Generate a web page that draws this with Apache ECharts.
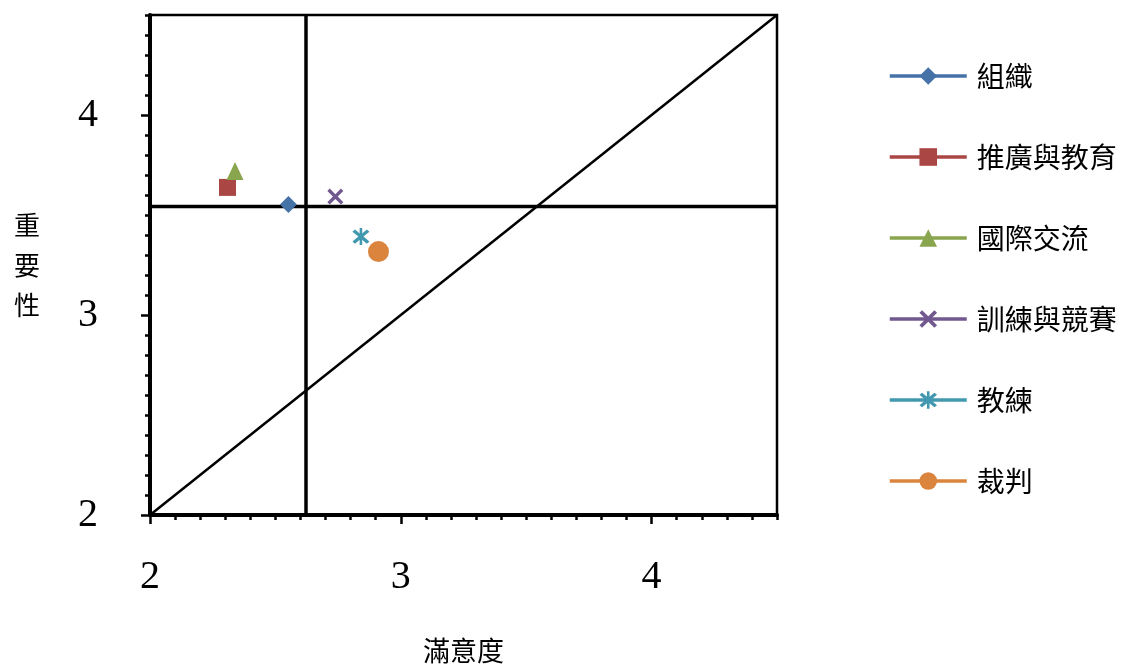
<!DOCTYPE html>
<html>
<head>
<meta charset="utf-8">
<script src="https://cdn.jsdelivr.net/npm/echarts@6/dist/echarts.min.js"></script>
<style>html,body{margin:0;padding:0;background:#fff;}#c{width:1145px;height:668px;}</style>
</head>
<body>
<div id="c"></div>
<script>
const seriesNames = ['組織', '推廣與教育', '國際交流', '訓練與競賽', '教練', '裁判'];
const satisfaction = [2.552, 2.309, 2.339, 2.739, 2.841, 2.911];
const importance = [3.553, 3.638, 3.72, 3.592, 3.392, 3.317];
const meanSatisfaction = 2.622;
const meanImportance = 3.542;
const axisMin = 2, axisMax = 4.5;
const axisTickLabels = [2, 3, 4];
const xName = '滿意度';
const yName = '重要性';

const colors = ['#4572A7', '#AA4643', '#89A54E', '#71588F', '#4198AF', '#DB843D'];
const xPath = 'path://M3,0 L10,7 L17,0 L20,3 L13,10 L20,17 L17,20 L10,13 L3,20 L0,17 L7,10 L0,3 Z';
const starPath = 'path://M3,0 L10,7 L17,0 L20,3 L13,10 L20,17 L17,20 L10,13 L3,20 L0,17 L7,10 L0,3 Z M8.5,-2 L11.5,-2 L11.5,22 L8.5,22 Z';
const symbols = ['diamond', 'rect', 'triangle', xPath, starPath, 'circle'];
const sizes = [[17, 17], [17, 17], [17, 18], [16, 16], [17, 17], [21, 21]];

const chart = echarts.init(document.getElementById('c'));
const labelFont = { fontFamily: 'Liberation Serif', fontSize: 40, color: '#000' };

const pointSeries = seriesNames.map((n, i) => ({
  name: n,
  type: 'line',
  xAxisIndex: 0, yAxisIndex: 0,
  data: [[satisfaction[i], importance[i]]],
  symbol: symbols[i],
  symbolSize: sizes[i],
  showSymbol: true,
  itemStyle: { color: colors[i] },
  lineStyle: { color: colors[i], width: 3.5 },
  z: 5
}));

const refLine = (data, w) => ({
  type: 'line', xAxisIndex: 0, yAxisIndex: 0, data: data, symbol: 'none', silent: true,
  lineStyle: { color: '#000', width: w }, itemStyle: { color: '#000' }, z: 3, animation: false
});

const option = {
  animation: false,
  grid: { left: 150, right: 368, top: 15, bottom: 153, show: true, borderColor: '#000', borderWidth: 2.5,
          containLabel: false, outerBoundsMode: 'none' },
  legend: {
    orient: 'vertical', left: 883, top: 57, itemWidth: 77, itemHeight: 22, itemGap: 53,
    data: seriesNames,
    lineStyle: { width: 3.5 },
    textStyle: { fontFamily: 'Noto Sans CJK TC', fontSize: 28, color: '#000', padding: [0, 0, 0, 5] }
  },
  xAxis: [
    {
      type: 'value', min: axisMin, max: axisMax, interval: 1, position: 'bottom',
      name: xName, nameLocation: 'middle', nameGap: 122,
      nameTextStyle: { fontFamily: 'Noto Sans CJK TC', fontSize: 27, color: '#000' },
      axisLine: { show: true, onZero: false, lineStyle: { color: '#000', width: 4 } },
      axisTick: { show: true, length: 9, lineStyle: { color: '#000', width: 2.5 } },
      axisLabel: Object.assign({ margin: 42, showMaxLabel: false,
        formatter: v => axisTickLabels.includes(v) ? String(v) : '' }, labelFont),
      splitLine: { show: false }
    },
    {
      type: 'value', min: axisMin, max: axisMax, interval: 0.1, position: 'bottom',
      axisLine: { show: false, onZero: false },
      axisTick: { show: true, length: 5, lineStyle: { color: '#000', width: 2.5 } },
      axisLabel: { show: false }, splitLine: { show: false }
    }
  ],
  yAxis: [
    {
      type: 'value', min: axisMin, max: axisMax, interval: 1, position: 'left',
      name: yName.split('').join('\n'), nameLocation: 'middle', nameGap: 110, nameRotate: 0,
      nameTextStyle: { fontFamily: 'Noto Sans CJK TC', fontSize: 26, color: '#000', lineHeight: 40, padding: [20, 0, 0, 0] },
      axisLine: { show: true, onZero: false, lineStyle: { color: '#000', width: 4 } },
      axisTick: { show: true, length: 9, lineStyle: { color: '#000', width: 2.5 } },
      axisLabel: Object.assign({ margin: 52, showMaxLabel: false,
        formatter: v => axisTickLabels.includes(v) ? String(v) : '' }, labelFont),
      splitLine: { show: false }
    },
    {
      type: 'value', min: axisMin, max: axisMax, interval: 0.1, position: 'left',
      axisLine: { show: false, onZero: false },
      axisTick: { show: true, length: 5, lineStyle: { color: '#000', width: 2.5 } },
      axisLabel: { show: false }, splitLine: { show: false }
    }
  ],
  series: [
    ...pointSeries,
    refLine([[meanSatisfaction, axisMin], [meanSatisfaction, axisMax]], 3.5),
    refLine([[axisMin, meanImportance], [axisMax, meanImportance]], 3.5),
    refLine([[axisMin, axisMin], [axisMax, axisMax]], 2.5)
  ]
};
chart.setOption(option);
</script>
</body>
</html>
